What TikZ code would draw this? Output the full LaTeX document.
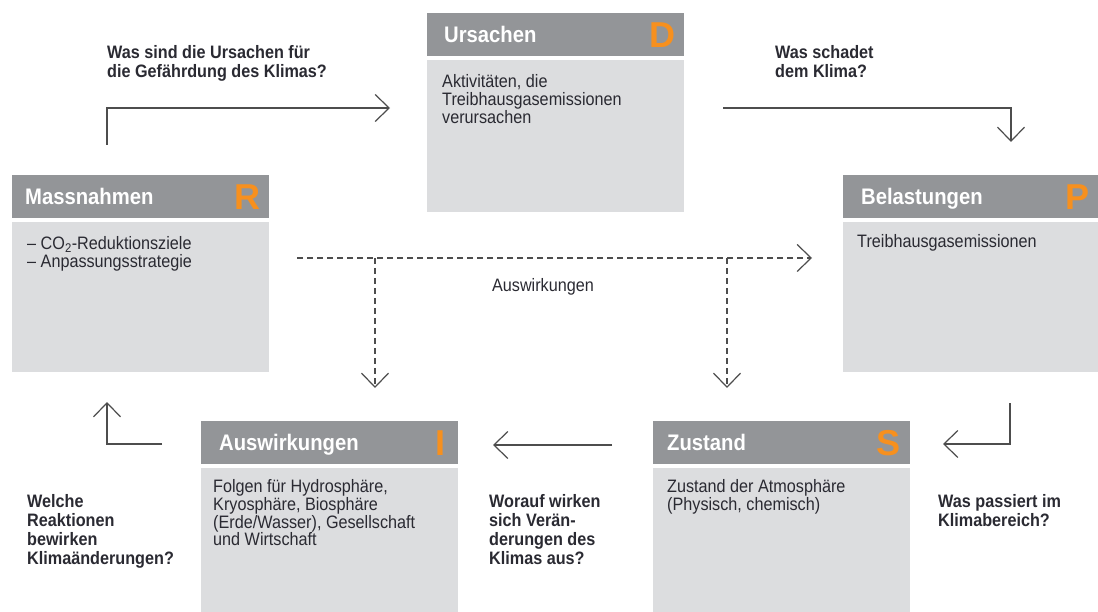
\documentclass[tikz,border=0pt]{standalone}
\usepackage{fontspec}
\setmainfont{Liberation Sans}[FakeStretch=0.9]
\newfontfamily\letterfont{Liberation Sans}
\usetikzlibrary{positioning,arrows.meta,calc}
\definecolor{headgray}{HTML}{939598}
\definecolor{bodygray}{HTML}{DCDDDF}
\definecolor{dpsirorange}{HTML}{F7901E}
\definecolor{ink}{HTML}{2A2A32}
\definecolor{wire}{HTML}{4D4D4D}

\begin{document}
\begin{tikzpicture}[x=1pt,y=-1pt,
  head/.style={fill=headgray,minimum width=257pt,minimum height=43pt,inner sep=0pt,anchor=north west},
  body/.style={fill=bodygray,minimum width=257pt,inner sep=0pt,anchor=north},
  title/.style={anchor=base west,text=white,inner sep=0pt,font=\fontsize{22.5}{22.5}\selectfont\bfseries},
  letter/.style={anchor=east,text=dpsirorange,inner sep=0pt,font=\letterfont\fontsize{36}{36}\selectfont\bfseries},
  txt/.style={anchor=north west,align=left,text=ink,inner sep=0pt,font=\fontsize{18}{17.7}\selectfont},
  quest/.style={anchor=north west,align=left,text=ink,inner sep=0pt,font=\fontsize{18}{19}\selectfont\bfseries},
  flow/.style={-{Straight Barb[length=14pt,width=27pt]},wire,line width=1.2pt},
  effect/.style={flow,dash pattern=on 6pt off 4pt}]
\useasboundingbox (0,0) rectangle (1098,612);
% D -- Ursachen
\node[head] (d-head) at (427,13) {};
\node[body,minimum height=152pt,below=3pt of d-head] (d-body) {};
\node[title] at ([shift={(17,-14)}]d-head.south west) {Ursachen};
\node[letter] at ([xshift=-9pt]d-head.east) {D};
\node[txt] (d-text) at ([shift={(15,15)}]d-body.north west) {Aktivitäten, die\\Treibhausgasemissionen\\verursachen};
% R -- Massnahmen
\node[head] (r-head) at (12,175) {};
\node[body,minimum height=150pt,below=3pt of r-head] (r-body) {};
\node[title] at ([shift={(13,-14)}]r-head.south west) {Massnahmen};
\node[letter] at ([xshift=-9pt]r-head.east) {R};
\node[txt] (r-text) at ([shift={(15,15)}]r-body.north west) {-- CO\textsubscript{2}-Reduktionsziele\\-- Anpassungsstrategie};
% P -- Belastungen
\node[head,minimum width=255pt] (p-head) at (843,175) {};
\node[body,minimum width=255pt,minimum height=150pt,below=3pt of p-head] (p-body) {};
\node[title] at ([shift={(18,-14)}]p-head.south west) {Belastungen};
\node[letter] at ([xshift=-9pt]p-head.east) {P};
\node[txt] (p-text) at ([shift={(14,13)}]p-body.north west) {Treibhausgasemissionen};
% I -- Auswirkungen
\node[head] (i-head) at (201,421) {};
\node[body,minimum height=145pt,below=3pt of i-head] (i-body) {};
\node[title] at ([shift={(18,-14)}]i-head.south west) {Auswirkungen};
\node[letter] at ([xshift=-13pt]i-head.east) {I};
\node[txt] (i-text) at ([shift={(12,12)}]i-body.north west) {Folgen für Hydrosphäre,\\Kryosphäre, Biosphäre\\(Erde/Wasser), Gesellschaft\\und Wirtschaft};
% S -- Zustand
\node[head] (s-head) at (653,421) {};
\node[body,minimum height=145pt,below=3pt of s-head] (s-body) {};
\node[title] at ([shift={(14,-14)}]s-head.south west) {Zustand};
\node[letter] at ([xshift=-10pt]s-head.east) {S};
\node[txt] (s-text) at ([shift={(14,12)}]s-body.north west) {Zustand der Atmosphäre\\(Physisch, chemisch)};
% questions
\node[quest] (rd-quest) at (107,45) {Was sind die Ursachen für\\die Gefährdung des Klimas?};
\node[quest] (dp-quest) at (775,45) {Was schadet\\dem Klima?};
\node[quest] (ps-quest) at (938,494) {Was passiert im\\Klimabereich?};
\node[quest] (si-quest) at (489,494) {Worauf wirken\\sich Verän-\\derungen des\\Klimas aus?};
\node[quest] (ir-quest) at (27,494) {Welche\\Reaktionen\\bewirken\\Klimaänderungen?};
% cycle
\coordinate (rd-from) at (107,145);
\coordinate (rd-to) at (390,108);
\coordinate (dp-from) at (723,108);
\coordinate (dp-to) at (1011,142);
\coordinate (ps-from) at (1010,403);
\coordinate (ps-to) at (943,444);
\coordinate (si-from) at (612,445);
\coordinate (si-to) at (493,445);
\coordinate (ir-from) at (162,444);
\coordinate (ir-to) at (107,402);
\draw[flow] (rd-from) |- (rd-to);
\draw[flow] (dp-from) -| (dp-to);
\draw[flow] (ps-from) |- (ps-to);
\draw[flow] (si-from) -- (si-to);
\draw[flow] (ir-from) -| (ir-to);
% Auswirkungen der Massnahmen
\coordinate (rp-from) at (297,258);
\coordinate (rp-to) at (812,258);
\coordinate (ri-to) at (375,388);
\coordinate (rs-to) at (727,388);
\draw[effect] (rp-from) -- (rp-to);
\draw[effect] (rp-from -| ri-to) -- (ri-to);
\draw[effect] (rp-from -| rs-to) -- (rs-to);
\node[font=\fontsize{18}{18}\selectfont,text=ink] (effect-label) at (543,287) {Auswirkungen};
\end{tikzpicture}
\end{document}
